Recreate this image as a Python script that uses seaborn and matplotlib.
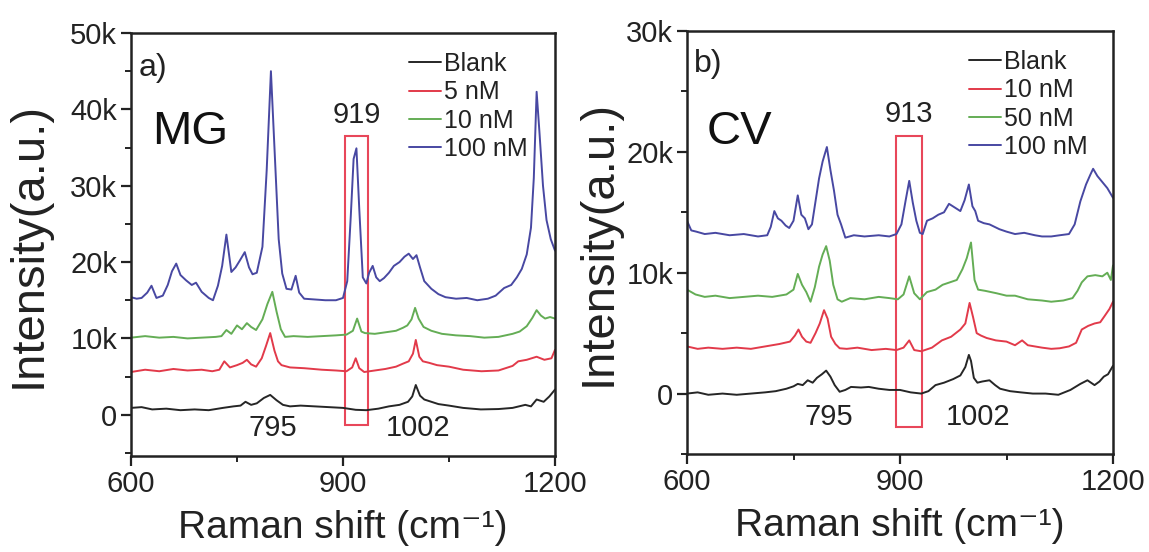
import numpy as np
import pandas as pd
import seaborn as sns
import matplotlib
matplotlib.use("Agg")
import matplotlib.pyplot as plt
from matplotlib.patches import Rectangle
from matplotlib.ticker import FuncFormatter, MultipleLocator

# ---------------- MG spectra (panel a) ----------------
mg_blank_x = [600, 615, 630, 650, 670, 690, 710, 730, 745, 755, 762, 770, 778, 788, 797, 806, 815, 825, 840,
              860, 880, 900, 918, 933, 950, 965, 980, 992, 998, 1003, 1009, 1015, 1025, 1035, 1050, 1070, 1095,
              1120, 1140, 1158, 1166, 1174, 1184, 1192, 1200]
mg_blank_y = [900, 1000, 700, 800, 600, 700, 600, 900, 1100, 1200, 1700, 1300, 1500, 2200, 2600, 1900, 1300, 1100,
              1200, 1100, 1000, 900, 650, 600, 800, 1100, 1300, 1700, 2400, 3900, 2500, 2000, 1700, 1400, 1200, 900,
              700, 750, 900, 1300, 1100, 2000, 1700, 2400, 3300]

mg_5nm_x = [600, 620, 640, 660, 680, 700, 715, 725, 732, 740, 750, 758, 764, 770, 777, 785, 791, 797, 803, 808, 813,
            825, 845, 870, 890, 905, 913, 918, 923, 930, 945, 960, 975, 985, 993, 999, 1003, 1008, 1013, 1022, 1033,
            1050, 1070, 1096, 1120, 1140, 1148, 1160, 1174, 1185, 1195, 1200]
mg_5nm_y = [5600, 5900, 5700, 6000, 5800, 5900, 5700, 5900, 7000, 6200, 6500, 6800, 7200, 6600, 6300, 7400, 9000,
            10700, 8400, 7000, 6500, 6200, 6100, 5900, 5800, 5700, 6200, 7400, 6100, 5600, 5800, 6000, 6300, 6700,
            7000, 8000, 9800, 7600, 7000, 6800, 6500, 6300, 5900, 5700, 5800, 6400, 7000, 7200, 7600, 7200, 7400, 8500]

mg_10nm_x = [600, 620, 640, 660, 680, 700, 720, 728, 735, 742, 750, 757, 764, 770, 777, 786, 793, 800, 806, 812, 818,
             830, 850, 870, 890, 905, 914, 920, 926, 931, 945, 960, 975, 985, 991, 997, 1002, 1007, 1014, 1025, 1040,
             1060, 1080, 1100, 1120, 1140, 1150, 1160, 1168, 1174, 1180, 1186, 1193, 1200]
mg_10nm_y = [10100, 10300, 10100, 10200, 10000, 10100, 10200, 10300, 11100, 10600, 11700, 11200, 12000, 11500, 11100,
             12500, 14500, 16100, 13500, 11200, 10200, 10300, 10200, 10300, 10400, 10500, 11000, 12600, 10900, 10700,
             10600, 10800, 11000, 11400, 11700, 12500, 14000, 12600, 11500, 11000, 10600, 10400, 10300, 10100, 10200,
             10600, 10900, 11600, 12700, 13700, 13000, 12600, 12800, 12600]

mg_100nm_x = [600, 608, 615, 623, 629, 636, 645, 652, 658, 664, 670, 678, 686, 692, 700, 710, 716, 723, 729, 735,
              742, 748, 754, 761, 767, 772, 778, 786, 792, 798, 804, 809, 814, 820, 827, 833, 838, 845, 860, 875,
              890, 900, 906, 911, 915, 919, 923, 928, 933, 937, 942, 947, 952, 958, 965, 972, 980, 987, 993, 999,
              1004, 1009, 1015, 1025, 1035, 1045, 1060, 1075, 1090, 1105, 1116, 1128, 1138, 1146, 1153, 1160, 1166,
              1170, 1174, 1178, 1183, 1188, 1194, 1200]
mg_100nm_y = [15400, 15200, 15300, 16000, 16900, 15300, 15600, 17000, 18800, 19800, 18300, 17600, 17000, 17300, 16100,
              15300, 15000, 16900, 19500, 23600, 18700, 19300, 20200, 21300, 19300, 18400, 18600, 22000, 32000, 45000,
              33000, 23000, 18500, 16500, 16400, 18200, 16000, 15200, 15100, 15000, 15000, 15300, 17500, 26000, 33500,
              34900, 27000, 18000, 17200, 18600, 19500, 18000, 17500, 17900, 18600, 19500, 20000, 20700, 21100, 20400,
              20900, 19300, 17500, 16500, 15800, 15400, 15200, 15300, 15000, 15200, 15600, 16600, 17000, 18000, 19100,
              21000, 24500, 31000, 42300, 37000, 30000, 25500, 23000, 21500]

# ---------------- CV spectra (panel b) ----------------
cv_blank_x = [600, 615, 630, 650, 670, 690, 710, 725, 740, 750, 756, 763, 770, 777, 783, 790, 796, 802, 808, 815, 823,
              831, 845, 856, 870, 885, 900, 915, 930, 940, 950, 962, 975, 985, 992, 997, 1000, 1004, 1009, 1016, 1026,
              1034, 1041, 1055, 1070, 1087, 1105, 1123, 1140, 1154, 1164, 1174, 1181, 1187, 1193, 1200]
cv_blank_y = [0, 100, -100, 0, -100, 0, 100, 200, 400, 600, 800, 700, 1100, 900, 1300, 1600, 1900, 1400, 700, 150, 300,
              550, 500, 550, 400, 300, 300, 100, 0, 200, 700, 900, 1200, 1500, 2200, 3200, 2700, 1300, 900, 1000, 1100,
              700, 400, 200, 100, 0, 0, -100, 300, 800, 1100, 700, 1000, 1400, 1600, 2300]

cv_10nm_x = [600, 615, 630, 650, 670, 690, 710, 730, 745, 752, 757, 762, 768, 774, 781, 787, 793, 798, 803, 809, 815,
             825, 840, 860, 880, 895, 905, 913, 920, 930, 945, 959, 972, 985, 992, 998, 1003, 1008, 1014, 1022, 1035,
             1050, 1062, 1072, 1080, 1090, 1100, 1113, 1125, 1138, 1148, 1156, 1165, 1174, 1182, 1188, 1195, 1200]
cv_10nm_y = [3900, 3700, 3800, 3700, 3800, 3700, 3900, 4100, 4300, 4800, 5300, 4700, 4300, 4200, 5000, 5800, 6900, 6200,
             4700, 4100, 3750, 3700, 3800, 3600, 3700, 3600, 3800, 4400, 3600, 3500, 3800, 4400, 4700, 5300, 5800, 7500,
             6300, 5000, 4800, 4600, 4400, 4300, 4000, 4400, 4000, 3900, 3800, 3700, 3750, 3900, 4200, 5300, 5600, 5800,
             5900, 6400, 7000, 7600]

cv_50nm_x = [600, 612, 625, 640, 660, 680, 700, 720, 740, 750, 756, 762, 768, 774, 780, 786, 791, 796, 801, 806, 812,
             818, 830, 850, 870, 885, 897, 905, 913, 920, 928, 938, 950, 960, 970, 980, 988, 994, 1000, 1005, 1010,
             1020, 1036, 1050, 1062, 1080, 1100, 1113, 1130, 1143, 1150, 1156, 1164, 1175, 1185, 1192, 1197, 1200]
cv_50nm_y = [8600, 8200, 8000, 8100, 7900, 8000, 8100, 8000, 8200, 8600, 9900, 9000, 8400, 7600, 8800, 10500, 11500,
             12200, 11000, 9000, 7800, 7600, 7900, 7800, 8000, 7900, 7800, 8200, 9700, 8300, 7800, 8400, 8600, 9000,
             9200, 9400, 10300, 11200, 12500, 9400, 8600, 8500, 8300, 8100, 8100, 7800, 7700, 7600, 7700, 7900, 8500,
             9200, 9700, 9800, 9700, 10000, 9400, 10600]

cv_100nm_x = [600, 606, 613, 625, 640, 660, 680, 700, 713, 718, 723, 728, 733, 739, 744, 750, 756, 761, 766, 771, 776,
              781, 786, 791, 797, 802, 807, 812, 817, 823, 835, 850, 870, 885, 895, 902, 908, 913, 918, 923, 928, 932,
              938, 946, 954, 962, 969, 977, 985, 991, 997, 1002, 1006, 1010, 1018, 1026, 1040, 1050, 1062, 1075, 1090,
              1100, 1113, 1125, 1138, 1146, 1154, 1162, 1168, 1172, 1178, 1185, 1192, 1197, 1200]
cv_100nm_y = [14300, 13500, 13400, 13200, 13300, 13100, 13200, 13000, 13100, 13800, 15100, 14500, 14300, 13900, 13700,
              14300, 16400, 14800, 14500, 13600, 14000, 15900, 17800, 19200, 20400, 18500, 16800, 14800, 14000, 12900,
              13100, 13000, 13100, 13000, 13200, 14000, 16000, 17600, 15800, 14300, 13300, 13200, 14300, 14500, 14800,
              15000, 15700, 15400, 15100, 16000, 17300, 15500, 15100, 14300, 14100, 14000, 13600, 13400, 13200, 13300,
              13100, 13000, 13000, 13100, 13200, 14000, 15900, 17300, 18100, 18600, 18000, 17500, 17000, 16500, 16200]

mg_labels = ["Blank", "5 nM", "10 nM", "100 nM"]
cv_labels = ["Blank", "10 nM", "50 nM", "100 nM"]
line_colors = ["#262626", "#e23a4a", "#64ad55", "#4848a2"]
box_color = "#e8475a"


def build_frame(xs, ys, labels):
    parts = []
    for x, y, lab in zip(xs, ys, labels):
        parts.append(pd.DataFrame({"shift": x, "intensity": y, "sample": lab}))
    return pd.concat(parts, ignore_index=True)


mg_df = build_frame([mg_blank_x, mg_5nm_x, mg_10nm_x, mg_100nm_x],
                    [mg_blank_y, mg_5nm_y, mg_10nm_y, mg_100nm_y], mg_labels)
cv_df = build_frame([cv_blank_x, cv_10nm_x, cv_50nm_x, cv_100nm_x],
                    [cv_blank_y, cv_10nm_y, cv_50nm_y, cv_100nm_y], cv_labels)

sns.set_theme(style="ticks")
plt.rcParams["font.family"] = ["Liberation Sans", "DejaVu Sans"]

fig = plt.figure(figsize=(11.49, 5.52), dpi=100)
ax_a = fig.add_axes([131 / 1149, 96 / 552, 424 / 1149, 423 / 552])
ax_b = fig.add_axes([687 / 1149, 98 / 552, 426 / 1149, 423 / 552])


def k_fmt(v, pos):
    return "0" if abs(v) < 1 else f"{int(round(v / 1000))}k"


def style_axes(ax, ymin, ymax, ystep, ylabel_x):
    ax.set_xlim(600, 1200)
    ax.set_ylim(ymin, ymax)
    ax.xaxis.set_major_locator(MultipleLocator(300))
    ax.xaxis.set_minor_locator(MultipleLocator(150))
    ax.yaxis.set_major_locator(MultipleLocator(ystep))
    ax.yaxis.set_minor_locator(MultipleLocator(ystep / 2))
    ax.yaxis.set_major_formatter(FuncFormatter(k_fmt))
    ax.tick_params(axis="both", which="major", direction="out", length=7, width=1.6,
                   labelsize=21, color="#222222", labelcolor="#222222", pad=3)
    ax.tick_params(axis="both", which="minor", direction="out", length=4, width=1.4, color="#222222")
    for sp in ax.spines.values():
        sp.set_linewidth(1.8)
        sp.set_color("#222222")
    ax.set_xlabel("Raman shift (cm\u207b\u00b9)", fontsize=28, color="#222222", va="baseline")
    ax.set_ylabel("Intensity(a.u.)", fontsize=34, color="#222222")
    ax.xaxis.set_label_coords(0.5, -0.193)
    ax.yaxis.set_label_coords(ylabel_x, 0.5)


def draw_panel(ax, df, labels, anchor_x):
    sns.lineplot(data=df, x="shift", y="intensity", hue="sample", hue_order=labels,
                 palette=line_colors, sort=False, estimator=None, linewidth=1.4,
                 legend=False, ax=ax)
    handles = ax.lines[:4]
    leg = ax.legend(handles, labels, loc="upper right", bbox_to_anchor=(anchor_x, 0.99), frameon=False,
                    fontsize=18, handlelength=1.3, handletextpad=0.1, labelspacing=0.17,
                    borderaxespad=0.2)
    for t in leg.get_texts():
        t.set_color("#222222")


# Panel a: malachite green
draw_panel(ax_a, mg_df, mg_labels, 0.97)
style_axes(ax_a, -5400, 50000, 10000, -0.19)
ax_a.add_patch(Rectangle((903, -1300), 33, 37800, fill=False, edgecolor=box_color, linewidth=1.5))
ax_a.text(0.017, 0.917, "a)", transform=ax_a.transAxes, fontsize=23, va="center", ha="left", color="#222222")
ax_a.text(0.05, 0.766, "MG", transform=ax_a.transAxes, fontsize=34, va="center", ha="left", color="#111111")
ax_a.text(919, 37400, "919", fontsize=21, ha="center", va="bottom", color="#222222")
ax_a.text(800, -1700, "795", fontsize=21, ha="center", va="center", color="#222222")
ax_a.text(1006, -1700, "1002", fontsize=21, ha="center", va="center", color="#222222")

# Panel b: crystal violet
draw_panel(ax_b, cv_df, cv_labels, 0.975)
style_axes(ax_b, -5000, 30000, 10000, -0.155)
ax_b.add_patch(Rectangle((895, -2800), 36, 24100, fill=False, edgecolor=box_color, linewidth=1.5))
ax_b.text(0.017, 0.922, "b)", transform=ax_b.transAxes, fontsize=23, va="center", ha="left", color="#222222")
ax_b.text(0.047, 0.761, "CV", transform=ax_b.transAxes, fontsize=34, va="center", ha="left", color="#111111")
ax_b.text(913, 22000, "913", fontsize=21, ha="center", va="bottom", color="#222222")
ax_b.text(800, -1900, "795", fontsize=21, ha="center", va="center", color="#222222")
ax_b.text(1010, -1900, "1002", fontsize=21, ha="center", va="center", color="#222222")

fig.savefig("out.png", dpi=100)
